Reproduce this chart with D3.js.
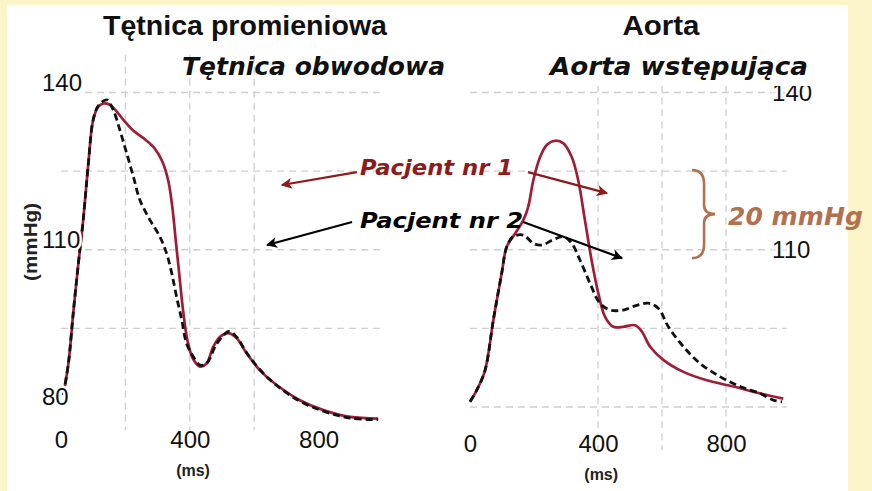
<!DOCTYPE html>
<html>
<head>
<meta charset="utf-8">
<script src="https://cdn.jsdelivr.net/npm/d3@7"></script>
<style>
  html, body { margin: 0; padding: 0; background: #fcf5c9; }
  svg { display: block; }
</style>
</head>
<body>
<svg id="chart" width="872" height="491"></svg>
<script>
// ---------- data ----------
const panelTitles = ["Tętnica promieniowa", "Aorta"];
const panelSubtitles = ["Tętnica obwodowa", "Aorta wstępująca"];
const seriesNames = ["Pacjent nr 1", "Pacjent nr 2"];
const bracketLabel = "20 mmHg";
const yUnit = "(mmHg)";
const xUnit = "(ms)";

const timeTicks = [0, 400, 800];
const leftYTicks = [140, 110, 80];
const rightYTicks = [140, 110];
const leftGridY = [140, 125, 110, 95];
const rightGridY = [140, 125, 110, 95, 80];
const leftGridX = [200, 400, 600];
const rightGridX = [400, 600, 800];

// radial artery (time ms, pressure mmHg)
const radialP1 = [[7,82.3],[23,88.3],[38,97.9],[54,107.4],[69,115.7],[85,126.5],[100,134.8],[116,137.3],[132,137.9],[150,137.7],[170,136.6],[195,134.7],[225,132.7],[258,131.2],[290,129.4],[315,126.8],[333,123.2],[346,118.0],[356,112.0],[367,105.5],[378,99.0],[393,92.6],[410,89.2],[432,87.7],[452,88.3],[473,91.5],[494,93.4],[520,94.1],[546,93.1],[577,90.2],[618,87.0],[670,84.2],[742,81.3],[815,79.4],[898,78.1],[985,77.8]];
const radialP2 = [[7,82.3],[23,88.3],[38,97.9],[54,107.4],[69,115.7],[85,126.5],[100,134.8],[116,137.5],[142,138.6],[162,136.7],[183,132.8],[204,128.4],[225,123.9],[245,119.5],[276,115.7],[307,112.5],[328,109.3],[344,105.5],[359,101.0],[375,96.6],[390,92.1],[411,89.6],[432,88.0],[452,88.3],[484,92.1],[522,94.4],[546,93.3],[577,90.3],[618,87.1],[670,84.1],[742,81.1],[815,79.2],[898,77.9],[985,77.6]];

// ascending aorta
const aortaP1 = [[0,81.0],[21,83.2],[47,87.0],[73,96.6],[99,105.5],[115,110.6],[141,113.1],[167,115.7],[182,118.2],[198,123.3],[219,127.7],[240,130.0],[266,130.8],[292,130.3],[318,127.7],[338,123.3],[359,115.7],[380,108.0],[401,101.7],[422,97.2],[448,95.3],[479,95.3],[516,95.6],[537,94.4],[563,91.5],[604,89.0],[667,86.7],[740,85.1],[823,83.9],[906,82.6],[979,81.6]];
const aortaP2 = [[0,81.0],[21,83.2],[47,87.0],[73,96.6],[99,105.5],[115,110.6],[135,112.5],[167,112.8],[198,111.2],[224,110.9],[260,111.9],[292,112.5],[318,111.2],[344,108.0],[375,103.6],[406,99.8],[438,98.5],[479,98.5],[521,99.4],[557,99.8],[589,98.8],[620,95.3],[667,91.5],[719,88.3],[781,85.8],[844,83.9],[906,82.6],[948,81.3],[975,81.0]];

// ---------- drawing ----------
const svg = d3.select("#chart");
const W = 872, H = 491;
const C_RED = "#a01d3a", C_LABEL_RED = "#8e1b1b", C_BROWN = "#b3704f", C_GRID = "#cfcfcf";

svg.append("rect").attr("x",0).attr("y",0).attr("width",W).attr("height",H).attr("fill","#fcf5c9");
svg.append("rect").attr("x",7).attr("y",5).attr("width",841).attr("height",H).attr("fill","#ffffff");

const y = d3.scaleLinear().domain([80, 140]).range([407, 92.5]);
const xL = d3.scaleLinear().domain([0, 800]).range([61, 318.6]);
const xR = d3.scaleLinear().domain([0, 800]).range([470, 726]);

const defs = svg.append("defs");
function marker(id, color) {
  defs.append("marker").attr("id", id)
    .attr("viewBox","0 0 10 10").attr("refX",9).attr("refY",5)
    .attr("markerUnits","userSpaceOnUse").attr("markerWidth",13).attr("markerHeight",11)
    .attr("orient","auto")
    .append("path").attr("d","M0,0 L10,5 L0,10 L2.5,5 z").attr("fill", color);
}
marker("arrRed", C_LABEL_RED);
marker("arrBlack", "#000");

// gridlines
function grid(x, gx, gy, yTop, yBot, xEnd) {
  const g = svg.append("g").attr("stroke", C_GRID).attr("stroke-width", 1.3).attr("stroke-dasharray","7,5").attr("fill","none");
  g.selectAll("line.h").data(gy).join("line").attr("class","h")
    .attr("x1", x(0)).attr("x2", x(xEnd)).attr("y1", d => y(d)).attr("y2", d => y(d));
  g.selectAll("line.v").data(gx).join("line").attr("class","v")
    .attr("x1", d => x(d)).attr("x2", d => x(d)).attr("y1", y(yTop)).attr("y2", y(yBot));
}
grid(xL, leftGridX, leftGridY, 147.2, 75.6, 990);
grid(xR, rightGridX, rightGridY, 141.4, 71.8, 990);

// curves
const line = (x) => d3.line().x(d => x(d[0])).y(d => y(d[1])).curve(d3.curveCatmullRom.alpha(0.5));
function curves(x, p1, p2) {
  svg.append("path").datum(p1).attr("d", line(x)).attr("fill","none")
    .attr("stroke", C_RED).attr("stroke-width", 2.7).attr("stroke-linejoin","round");
  svg.append("path").datum(p2).attr("d", line(x)).attr("fill","none")
    .attr("stroke", "#111").attr("stroke-width", 2.8).attr("stroke-dasharray","7,4");
}
curves(xL, radialP1, radialP2);
curves(xR, aortaP1, aortaP2);

// axes (tick labels only)
function styleAxis(g) {
  g.select(".domain").remove();
  g.selectAll("line").remove();
  g.selectAll("text").attr("font-family","'Liberation Sans', Arial, sans-serif")
    .attr("font-size", 24).attr("fill","#111");
}
function xAxis(x, baseline) {
  const g = svg.append("g").call(d3.axisBottom(x).tickValues(timeTicks).tickSize(0).tickFormat(d3.format("d")));
  styleAxis(g);
  g.selectAll("text").attr("y", baseline).attr("dy", 0);
  svg.append("text").attr("x", x(410)).attr("y", baseline + 28).attr("text-anchor","middle")
    .attr("font-family","'Liberation Sans', Arial, sans-serif").attr("font-weight","bold")
    .attr("font-size", 16).attr("fill","#222").text(xUnit);
}
xAxis(xL, 448);
xAxis(xR, 452);

function yAxis(ticks, xStart, shift) {
  const g = svg.append("g").call(d3.axisLeft(y).tickValues(ticks).tickSize(0).tickFormat(d3.format("d")));
  styleAxis(g);
  g.selectAll("text").attr("x", xStart).attr("text-anchor","start")
    .attr("transform", `translate(0,${shift})`)
    .attr("stroke","#fff").attr("stroke-width",5).attr("paint-order","stroke");
}
yAxis(leftYTicks, 42, -10);
yAxis(rightYTicks, xR(944), 0);

svg.append("text").attr("transform", `translate(37,${y(111.5)}) rotate(-90)`)
  .attr("text-anchor","middle").attr("font-family","'Liberation Sans', Arial, sans-serif")
  .attr("font-weight","bold").attr("font-size",18).attr("textLength",78).attr("lengthAdjust","spacingAndGlyphs")
  .attr("fill","#222").text(yUnit);

// titles
const titleFont = "'Liberation Sans', Arial, sans-serif";
svg.append("text").attr("x", 245).attr("y", 35).attr("text-anchor","middle")
  .attr("font-family", titleFont).attr("font-weight","bold").attr("font-size",28)
  .attr("textLength",284).attr("lengthAdjust","spacingAndGlyphs").attr("fill","#111").text(panelTitles[0]);
svg.append("text").attr("x", 661).attr("y", 35).attr("text-anchor","middle")
  .attr("font-family", titleFont).attr("font-weight","bold").attr("font-size",28)
  .attr("textLength",77).attr("lengthAdjust","spacingAndGlyphs").attr("fill","#111").text(panelTitles[1]);

// italic subtitles (slide overlay with white box)
const handFont = "'DejaVu Sans', 'Noto Sans', sans-serif";
svg.append("rect").attr("x", 540).attr("y", 44).attr("width", 290).attr("height", 42).attr("fill","#fff");
svg.append("text").attr("x", 182).attr("y", 75).attr("font-family", handFont).attr("font-style","italic")
  .attr("font-weight","bold").attr("font-size",25).attr("textLength",263).attr("lengthAdjust","spacingAndGlyphs")
  .attr("fill","#111").text(panelSubtitles[0]);
svg.append("text").attr("x", 550).attr("y", 75).attr("font-family", handFont).attr("font-style","italic")
  .attr("font-weight","bold").attr("font-size",25).attr("textLength",258).attr("lengthAdjust","spacingAndGlyphs")
  .attr("fill","#111").text(panelSubtitles[1]);

// patient annotations
function arrow(x1, y1, x2, y2, color, mk) {
  svg.append("line").attr("x1", x1).attr("y1", y1).attr("x2", x2).attr("y2", y2)
    .attr("stroke", color).attr("stroke-width", 2.2).attr("marker-end", `url(#${mk})`);
}
arrow(xL(919), y(124.8), xL(686), y(122.35), C_LABEL_RED, "arrRed");
arrow(xR(181), y(124.8), xR(428), y(120.8), C_LABEL_RED, "arrRed");
arrow(xL(904), y(115.3), xL(640), y(110.9), "#000", "arrBlack");
arrow(xR(166), y(115.3), xR(475), y(108.4), "#000", "arrBlack");

svg.append("text").attr("x", xL(929)).attr("y", y(124.25)).attr("font-family", handFont)
  .attr("font-style","italic").attr("font-weight","bold").attr("font-size",21)
  .attr("textLength",153).attr("lengthAdjust","spacingAndGlyphs").attr("fill", C_LABEL_RED).text(seriesNames[0]);
svg.append("text").attr("x", xL(929)).attr("y", y(114.15)).attr("font-family", handFont)
  .attr("font-style","italic").attr("font-weight","bold").attr("font-size",21)
  .attr("textLength",163).attr("lengthAdjust","spacingAndGlyphs").attr("fill", "#000").text(seriesNames[1]);

// 20 mmHg bracket
const bx = xR(694), bt = y(125.2), bb = y(108.4), bm = (bt + bb) / 2;
svg.append("path")
  .attr("d", `M${bx},${bt} Q${bx+12},${bt} ${bx+12},${bt+14} L${bx+12},${bm-9} Q${bx+12},${bm} ${bx+23},${bm} Q${bx+12},${bm} ${bx+12},${bm+9} L${bx+12},${bb-14} Q${bx+12},${bb} ${bx},${bb}`)
  .attr("fill","none").attr("stroke", C_BROWN).attr("stroke-width", 2.6);
svg.append("text").attr("x", xR(806)).attr("y", y(114.7)).attr("font-family", handFont)
  .attr("font-style","italic").attr("font-weight","bold").attr("font-size",25)
  .attr("textLength",135).attr("lengthAdjust","spacingAndGlyphs").attr("fill", C_BROWN).text(bracketLabel);
</script>
</body>
</html>
